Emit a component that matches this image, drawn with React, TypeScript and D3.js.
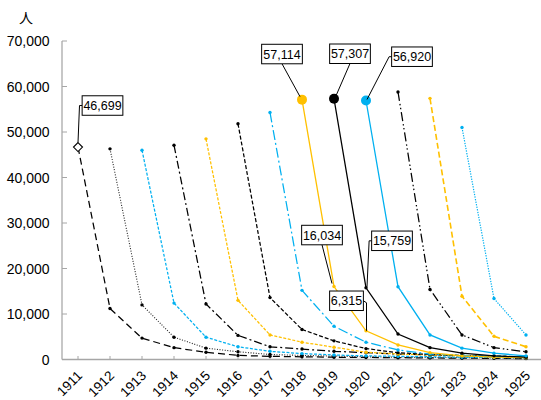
import React from 'react';
import * as d3 from 'd3';

const years = [1911, 1912, 1913, 1914, 1915, 1916, 1917, 1918, 1919, 1920, 1921, 1922, 1923, 1924, 1925];
const yTicks = [0, 10000, 20000, 30000, 40000, 50000, 60000, 70000];
const yUnit = '人';

// cohort series: values from their start year onward
const cohortStarts = [1911, 1912, 1913, 1914, 1915, 1916, 1917, 1918, 1919, 1920, 1921, 1922, 1923];
const s1911 = [46699, 11200, 4700, 2600, 1600, 900, 700, 600, 500, 450, 400, 350, 300, 250, 200];
const s1912 = [46300, 12000, 4900, 2500, 1700, 1100, 900, 750, 600, 500, 450, 400, 350, 300];
const s1913 = [46000, 12400, 4900, 2800, 1800, 1300, 1000, 800, 700, 600, 500, 450, 400];
const s1914 = [47100, 12200, 5300, 2800, 2300, 1800, 1500, 1200, 1000, 800, 700, 600];
const s1915 = [48500, 13000, 5400, 3800, 2700, 1600, 1200, 1000, 800, 700, 600];
const s1916 = [51800, 13600, 6600, 4100, 2400, 1500, 1100, 900, 700, 600];
const s1917 = [54300, 15200, 7300, 3800, 2100, 1200, 900, 700, 600];
const s1918 = [57114, 16034, 6315, 3200, 1500, 800, 500, 400];
const s1919 = [57307, 15759, 5600, 2600, 1400, 800, 500];
const s1920 = [56920, 16000, 5400, 2500, 1400, 800];
const s1921 = [58800, 15400, 5400, 2600, 1700];
const s1922 = [57400, 13900, 5100, 2800];
const s1923 = [51000, 13400, 5400];
const seriesValues = [s1911, s1912, s1913, s1914, s1915, s1916, s1917, s1918, s1919, s1920, s1921, s1922, s1923];

const BLK = '#000000';
const ORG = '#FFC000';
const BLU = '#00B0F0';
const seriesColors = [BLK, '#222222', BLU, BLK, ORG, BLK, BLU, ORG, BLK, BLU, BLK, ORG, BLU];
const seriesDash = ['7,4', '1,1.6', '3,1.6', '8,3,2,3', '3,1.6', '4,2', '10,3,2,3', null, null, null, '9,3,1.5,2.5,1.5,3', '6,3', '1.3,1.3'];
const seriesWidth = [1.25, 1.1, 1.25, 1.25, 1.25, 1.25, 1.25, 1.3, 1.3, 1.3, 1.25, 1.6, 1.2];
const bigStartMarker = [false, false, false, false, false, false, false, true, true, true, false, false, false];

type Lab = { s: number; i: number; cx: number; cy: number; leader: string };
const labels: Lab[] = [
  { s: 0, i: 0, cx: 24.5, cy: -41.5, leader: 'left-hook-up' },
  { s: 7, i: 0, cx: -20, cy: -45.6, leader: 'bottom' },
  { s: 8, i: 0, cx: 16, cy: -45, leader: 'bottom' },
  { s: 9, i: 0, cx: 46, cy: -43.8, leader: 'left' },
  { s: 7, i: 1, cx: -12, cy: -51.5, leader: 'bottom' },
  { s: 8, i: 1, cx: 26, cy: -47, leader: 'left' },
  { s: 7, i: 2, cx: -19.5, cy: -30, leader: 'right-down' },
];

const W = 541;
const H = 400;
const FONT = '"Liberation Sans", Arial, Helvetica, sans-serif';

export default function App() {
  const x = d3.scalePoint<number>().domain(years).range([78, 526]);
  const y = d3.scaleLinear().domain([0, 70000]).range([359.5, 41]);
  const fmt = d3.format(',');
  const line = d3
    .line<[number, number]>()
    .x((d) => x(d[0]) as number)
    .y((d) => y(d[1]));

  const series = seriesValues.map((vals, k) =>
    vals.map((v, j) => [cohortStarts[k] + j, v] as [number, number])
  );

  const fs = 12.5;
  const textW = (t: string) => {
    let w = 0;
    for (const ch of t) w += ch === ',' ? 0.278 * fs : 0.556 * fs;
    return w;
  };

  return (
    <svg width={W} height={H} style={{ position: 'absolute', left: 0, top: 0, background: '#fff' }} fontFamily={FONT}>
      <rect x={0} y={0} width={W} height={H} fill="#fff" />
      {/* y axis */}
      <line x1={62} x2={62} y1={y(70000)} y2={y(0)} stroke="#a6a6a6" strokeWidth={1.25} />
      {yTicks.map((t) => (
        <g key={t}>
          <line x1={62} x2={67} y1={y(t)} y2={y(t)} stroke="#a6a6a6" strokeWidth={1} />
          <text x={49.5} y={y(t)} dy="0.36em" textAnchor="end" fontSize={14} fill="#000">
            {fmt(t)}
          </text>
        </g>
      ))}
      <text x={26} y={18} dy="0.36em" textAnchor="middle" fontSize={14} fontFamily='"Noto Sans CJK JP", sans-serif'>
        {yUnit}
      </text>
      {/* x axis */}
      <line x1={62} x2={W} y1={y(0)} y2={y(0)} stroke="#a6a6a6" strokeWidth={1.5} />
      {years.map((yr) => (
        <g key={yr}>
          <line x1={x(yr)} x2={x(yr)} y1={y(0)} y2={y(0) - 3.5} stroke="#a6a6a6" strokeWidth={1} />
          <text
            transform={`translate(${(x(yr) as number) + 5},${376.5}) rotate(-45)`}
            textAnchor="end"
            fontSize={13.5}
            fill="#000"
          >
            {yr}
          </text>
        </g>
      ))}
      {/* series */}
      {series.map((pts, k) => (
        <g key={k}>
          <path
            d={line(pts) || ''}
            fill="none"
            stroke={seriesColors[k]}
            strokeWidth={seriesWidth[k]}
            strokeDasharray={seriesDash[k] || undefined}
          />
          {pts.map((p, j) => {
            const px = x(p[0]) as number;
            const py = y(p[1]);
            if (j === 0 && bigStartMarker[k]) {
              return <circle key={j} cx={px} cy={py} r={5} fill={seriesColors[k]} />;
            }
            if (j === 0 && k === 0) {
              return (
                <path
                  key={j}
                  d={`M${px},${py - 4.5}L${px + 4.5},${py}L${px},${py + 4.5}L${px - 4.5},${py}Z`}
                  fill="#fff"
                  stroke="#000"
                  strokeWidth={1.1}
                />
              );
            }
            return <circle key={j} cx={px} cy={py} r={1.7} fill={k === 1 ? '#000' : seriesColors[k]} />;
          })}
        </g>
      ))}
      {/* data labels */}
      {labels.map((l, n) => {
        const yr = cohortStarts[l.s] + l.i;
        const v = seriesValues[l.s][l.i];
        const px = x(yr) as number;
        const py = y(v);
        const t = fmt(v);
        const bw = textW(t) + 2.5;
        const bh = 19.5;
        const bcx = px + l.cx;
        const bcy = py + l.cy;
        const left = bcx - bw / 2;
        const right = bcx + bw / 2;
        const bottom = bcy + bh / 2;
        let pts: [number, number][] = [];
        if (l.leader === 'left-hook-up') pts = [[left, bcy], [px + 1.5, bcy], [px, py - 4.5]];
        else if (l.leader === 'bottom') pts = [[bcx, bottom], [px + (bcx < px ? -2 : 2), py - 3]];
        else if (l.leader === 'left') pts = [[left, bcy], [left - 2.5, bcy], [px + 1, py - 1]];
        else if (l.leader === 'right-down') pts = [[right, bcy], [px + 0.5, bcy + 2], [px + 0.5, py]];
        return (
          <g key={n}>
            <path d={d3.line()(pts) || ''} fill="none" stroke="#000" strokeWidth={1} />
            <rect x={left} y={bcy - bh / 2} width={bw} height={bh} fill="#fff" stroke="#000" strokeWidth={1} />
            <text x={bcx} y={bcy} dy="0.36em" textAnchor="middle" fontSize={fs} fill="#000">
              {t}
            </text>
          </g>
        );
      })}
    </svg>
  );
}
